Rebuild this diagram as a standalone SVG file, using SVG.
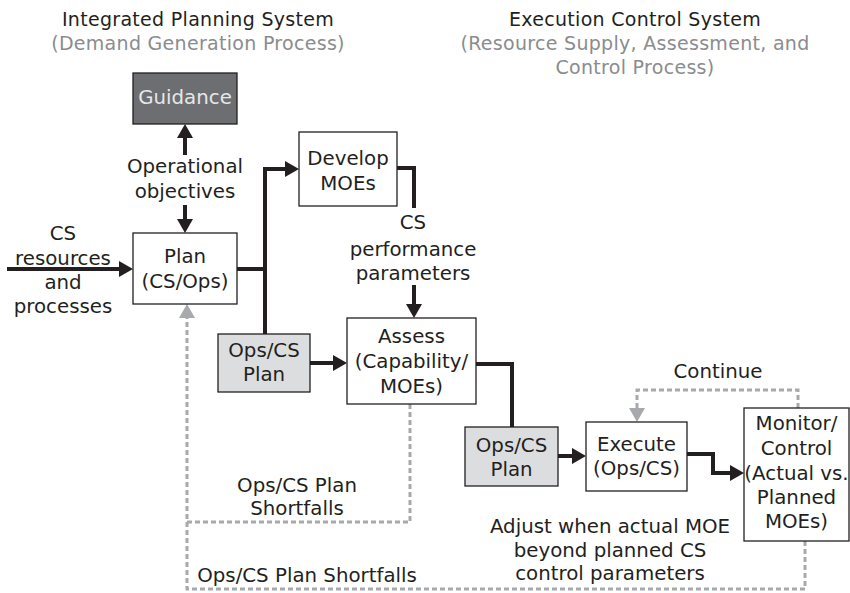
<svg xmlns="http://www.w3.org/2000/svg" width="850" height="593" viewBox="0 0 850 593">
<style>
text{font-family:"DejaVu Sans","Open Sans",sans-serif;font-size:19.8px;fill:#231f20;text-anchor:middle}
.h{font-size:19px;letter-spacing:0.3px}
.g{fill:#8a8c8e}
.box{fill:#fff;stroke:#231f20;stroke-width:1.3}
.gray{fill:#dcddde;stroke:#231f20;stroke-width:1.3}
.dark{fill:#6d6e71;stroke:#231f20;stroke-width:1.3}
.s{fill:none;stroke:#231f20;stroke-width:4}
.sa{fill:none;stroke:#231f20;stroke-width:4;marker-end:url(#ah)}
.d{fill:none;stroke:#a7a9ac;stroke-width:3;stroke-dasharray:5 3}
.da{fill:none;stroke:#a7a9ac;stroke-width:3;stroke-dasharray:5 3;marker-end:url(#gh)}
</style>
<defs>
<marker id="ah" viewBox="0 0 14 16" refX="0" refY="8" markerWidth="14" markerHeight="16" markerUnits="userSpaceOnUse" orient="auto"><path d="M0,0L14,8L0,16z" fill="#231f20"/></marker>
<marker id="gh" viewBox="0 0 14 16" refX="0" refY="8" markerWidth="14" markerHeight="16" markerUnits="userSpaceOnUse" orient="auto"><path d="M0,0L14,8L0,16z" fill="#a7a9ac"/></marker>
</defs>
<g id="headings">
<text class="h" x="198" y="26">Integrated Planning System</text>
<text class="h g" x="198" y="50">(Demand Generation Process)</text>
<text class="h" x="635" y="26">Execution Control System</text>
<text class="h g" x="635" y="50">(Resource Supply, Assessment, and</text>
<text class="h g" x="635" y="74">Control Process)</text>
</g>
<g id="connectors">
<path class="sa" d="M7,269H119"/>
<path class="sa" d="M185,155V138"/>
<path class="sa" d="M185,205V219"/>
<path class="s" d="M237,269H265"/>
<path class="sa" d="M265,334V169H285"/>
<path class="s" d="M395,168H414V208"/>
<path class="sa" d="M414,285V304"/>
<path class="sa" d="M310,363H333"/>
<path class="s" d="M476,364H512V427"/>
<path class="sa" d="M558,456H572"/>
<path class="sa" d="M687,454H713V473H730"/>
<path class="da" d="M798,408V390H637V408"/>
<path class="da" d="M805,541V589H187V318"/>
<path class="d" d="M410,404V522H187"/>
</g>
<g id="guidance"><rect class="dark" x="133" y="73" width="104" height="51"/><text x="185" y="104" style="fill:#e6e7e8">Guidance</text></g>
<g id="plan"><rect class="box" x="133" y="233" width="104" height="71"/><text x="185" y="263">Plan</text><text x="185" y="288">(CS/Ops)</text></g>
<g id="develop"><rect class="box" x="299" y="132" width="98" height="74"/><text x="348" y="165">Develop</text><text x="348" y="190">MOEs</text></g>
<g id="opsplan1"><rect class="gray" x="218" y="334" width="92" height="58"/><text x="264" y="357">Ops/CS</text><text x="264" y="381">Plan</text></g>
<g id="assess"><rect class="box" x="347" y="318" width="129" height="86"/><text x="411.5" y="343">Assess</text><text x="411.5" y="368">(Capability/</text><text x="411.5" y="393">MOEs)</text></g>
<g id="opsplan2"><rect class="gray" x="465" y="427" width="93" height="59"/><text x="511.5" y="452">Ops/CS</text><text x="511.5" y="476">Plan</text></g>
<g id="execute"><rect class="box" x="586" y="422" width="101" height="69"/><text x="636.5" y="451">Execute</text><text x="636.5" y="475">(Ops/CS)</text></g>
<g id="monitor"><rect class="box" x="744" y="408" width="105" height="133"/><text x="796.5" y="430">Monitor/</text><text x="796.5" y="455">Control</text><text x="796.5" y="480">(Actual vs.</text><text x="796.5" y="504">Planned</text><text x="796.5" y="528">MOEs)</text></g>
<g id="labels">
<text x="185" y="173">Operational</text><text x="185" y="198">objectives</text>
<text x="63" y="240">CS</text><text x="63" y="264.5">resources</text><text x="63" y="289">and</text><text x="63" y="313">processes</text>
<text x="413" y="229">CS</text><text x="413" y="256">performance</text><text x="413" y="280">parameters</text>
<text x="718" y="378">Continue</text>
<text x="297" y="492">Ops/CS Plan</text><text x="297" y="515">Shortfalls</text>
<text x="307" y="582">Ops/CS Plan Shortfalls</text>
<text x="610" y="533">Adjust when actual MOE</text><text x="610" y="557">beyond planned CS</text><text x="610" y="580">control parameters</text>
</g>
</svg>
